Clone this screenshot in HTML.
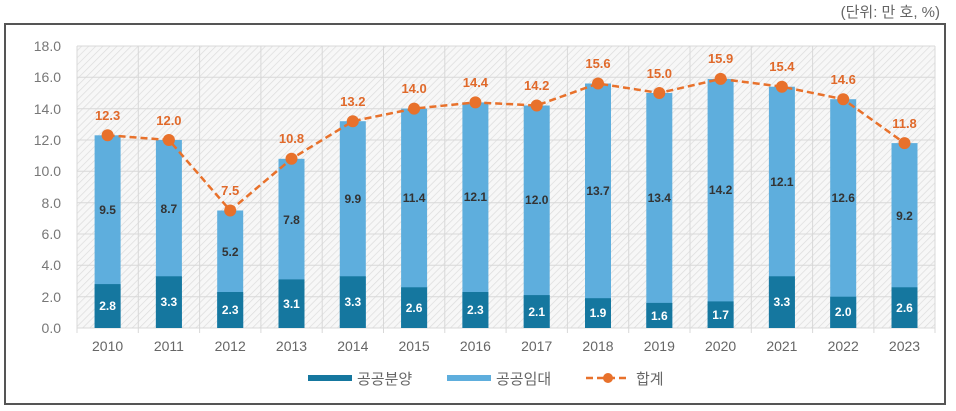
<!DOCTYPE html>
<html><head><meta charset="utf-8"><style>
body{margin:0;background:#fff;}
svg{display:block;font-family:"Liberation Sans","Noto Sans CJK KR",sans-serif;}
</style></head><body>
<svg width="956" height="411" viewBox="0 0 956 411" xmlns="http://www.w3.org/2000/svg">
<defs>
<pattern id="h" width="5" height="5" patternUnits="userSpaceOnUse" patternTransform="rotate(45)">
<rect width="5" height="5" fill="#f7f7f7"/><line x1="0" y1="0" x2="0" y2="5" stroke="#dcdcdc" stroke-width="1.4"/>
</pattern>
</defs>
<text x="940" y="17" font-size="15" fill="#666" text-anchor="end">(단위: 만 호, %)</text>
<rect x="5" y="24" width="940" height="380" fill="#fff" stroke="#555" stroke-width="2"/>
<rect x="77" y="46" width="858" height="282" fill="url(#h)"/>
<g stroke="#d8d8d8" stroke-width="1">
<line x1="77" x2="935" y1="46" y2="46"/><line x1="77" x2="935" y1="77.3" y2="77.3"/><line x1="77" x2="935" y1="108.7" y2="108.7"/><line x1="77" x2="935" y1="140" y2="140"/><line x1="77" x2="935" y1="171.3" y2="171.3"/><line x1="77" x2="935" y1="202.7" y2="202.7"/><line x1="77" x2="935" y1="234" y2="234"/><line x1="77" x2="935" y1="265.3" y2="265.3"/><line x1="77" x2="935" y1="296.7" y2="296.7"/><line x1="77" x2="935" y1="328" y2="328"/>
<line x1="77" x2="77" y1="46" y2="333"/><line x1="138.3" x2="138.3" y1="46" y2="333"/><line x1="199.6" x2="199.6" y1="46" y2="333"/><line x1="260.9" x2="260.9" y1="46" y2="333"/><line x1="322.2" x2="322.2" y1="46" y2="333"/><line x1="383.5" x2="383.5" y1="46" y2="333"/><line x1="444.8" x2="444.8" y1="46" y2="333"/><line x1="506.1" x2="506.1" y1="46" y2="333"/><line x1="567.4" x2="567.4" y1="46" y2="333"/><line x1="628.7" x2="628.7" y1="46" y2="333"/><line x1="690" x2="690" y1="46" y2="333"/><line x1="751.3" x2="751.3" y1="46" y2="333"/><line x1="812.6" x2="812.6" y1="46" y2="333"/><line x1="873.9" x2="873.9" y1="46" y2="333"/><line x1="935" x2="935" y1="46" y2="333"/>
</g>
<g font-size="14" fill="#777" text-anchor="end">
<text x="61" y="51">18.0</text><text x="61" y="82">16.0</text><text x="61" y="114">14.0</text><text x="61" y="145">12.0</text><text x="61" y="176">10.0</text><text x="61" y="208">8.0</text><text x="61" y="239">6.0</text><text x="61" y="270">4.0</text><text x="61" y="302">2.0</text><text x="61" y="333">0.0</text>
</g>
<g fill="#5eaedd">
<rect x="94.6" y="135.3" width="26" height="192.7"/><rect x="155.9" y="140" width="26" height="188"/><rect x="217.2" y="210.5" width="26" height="117.5"/><rect x="278.5" y="158.8" width="26" height="169.2"/><rect x="339.8" y="121.2" width="26" height="206.8"/><rect x="401.1" y="108.6" width="26" height="219.4"/><rect x="462.4" y="102.4" width="26" height="225.6"/><rect x="523.7" y="105.5" width="26" height="222.5"/><rect x="585" y="83.5" width="26" height="244.5"/><rect x="646.3" y="93" width="26" height="235"/><rect x="707.6" y="78.9" width="26" height="249.1"/><rect x="768.9" y="86.7" width="26" height="241.3"/><rect x="830.2" y="99.2" width="26" height="228.8"/><rect x="891.5" y="143.1" width="26" height="184.9"/>
</g>
<g fill="#15779f">
<rect x="94.6" y="284.1" width="26" height="43.9"/><rect x="155.9" y="276.3" width="26" height="51.7"/><rect x="217.2" y="292" width="26" height="36"/><rect x="278.5" y="279.4" width="26" height="48.6"/><rect x="339.8" y="276.3" width="26" height="51.7"/><rect x="401.1" y="287.3" width="26" height="40.7"/><rect x="462.4" y="292" width="26" height="36"/><rect x="523.7" y="295.1" width="26" height="32.9"/><rect x="585" y="298.2" width="26" height="29.8"/><rect x="646.3" y="302.9" width="26" height="25.1"/><rect x="707.6" y="301.4" width="26" height="26.6"/><rect x="768.9" y="276.3" width="26" height="51.7"/><rect x="830.2" y="296.7" width="26" height="31.3"/><rect x="891.5" y="287.3" width="26" height="40.7"/>
</g>
<g font-size="12" font-weight="bold" fill="#fff" text-anchor="middle">
<text x="107.6" y="310">2.8</text><text x="168.9" y="306">3.3</text><text x="230.2" y="314">2.3</text><text x="291.5" y="308">3.1</text><text x="352.8" y="306">3.3</text><text x="414.1" y="312">2.6</text><text x="475.4" y="314">2.3</text><text x="536.7" y="316">2.1</text><text x="598" y="317">1.9</text><text x="659.3" y="320">1.6</text><text x="720.6" y="319">1.7</text><text x="781.9" y="306">3.3</text><text x="843.2" y="316">2.0</text><text x="904.5" y="312">2.6</text>
</g>
<g font-size="12" font-weight="bold" fill="#333" text-anchor="middle">
<text x="107.6" y="214">9.5</text><text x="168.9" y="213">8.7</text><text x="230.2" y="256">5.2</text><text x="291.5" y="224">7.8</text><text x="352.8" y="203">9.9</text><text x="414.1" y="202">11.4</text><text x="475.4" y="201">12.1</text><text x="536.7" y="204">12.0</text><text x="598" y="195">13.7</text><text x="659.3" y="202">13.4</text><text x="720.6" y="194">14.2</text><text x="781.9" y="186">12.1</text><text x="843.2" y="202">12.6</text><text x="904.5" y="220">9.2</text>
</g>
<polyline fill="none" stroke="#e8712b" stroke-width="2.5" stroke-dasharray="7,4" points="107.6,135.3 168.9,140 230.2,210.5 291.5,158.8 352.8,121.2 414.1,108.6 475.4,102.4 536.7,105.5 598,83.5 659.3,93 720.6,78.9 781.9,86.7 843.2,99.2 904.5,143.1"/>
<g fill="#e8712b">
<circle cx="107.6" cy="135.3" r="6"/><circle cx="168.9" cy="140" r="6"/><circle cx="230.2" cy="210.5" r="6"/><circle cx="291.5" cy="158.8" r="6"/><circle cx="352.8" cy="121.2" r="6"/><circle cx="414.1" cy="108.6" r="6"/><circle cx="475.4" cy="102.4" r="6"/><circle cx="536.7" cy="105.5" r="6"/><circle cx="598" cy="83.5" r="6"/><circle cx="659.3" cy="93" r="6"/><circle cx="720.6" cy="78.9" r="6"/><circle cx="781.9" cy="86.7" r="6"/><circle cx="843.2" cy="99.2" r="6"/><circle cx="904.5" cy="143.1" r="6"/>
</g>
<g font-size="13" font-weight="bold" fill="#e0692a" text-anchor="middle">
<text x="107.6" y="120">12.3</text><text x="168.9" y="125">12.0</text><text x="230.2" y="195">7.5</text><text x="291.5" y="143">10.8</text><text x="352.8" y="106">13.2</text><text x="414.1" y="93">14.0</text><text x="475.4" y="87">14.4</text><text x="536.7" y="90">14.2</text><text x="598" y="68">15.6</text><text x="659.3" y="78">15.0</text><text x="720.6" y="63">15.9</text><text x="781.9" y="71">15.4</text><text x="843.2" y="84">14.6</text><text x="904.5" y="128">11.8</text>
</g>
<g font-size="14" fill="#666" text-anchor="middle">
<text x="107.6" y="351">2010</text><text x="168.9" y="351">2011</text><text x="230.2" y="351">2012</text><text x="291.5" y="351">2013</text><text x="352.8" y="351">2014</text><text x="414.1" y="351">2015</text><text x="475.4" y="351">2016</text><text x="536.7" y="351">2017</text><text x="598" y="351">2018</text><text x="659.3" y="351">2019</text><text x="720.6" y="351">2020</text><text x="781.9" y="351">2021</text><text x="843.2" y="351">2022</text><text x="904.5" y="351">2023</text>
</g>
<rect x="308" y="375" width="44" height="6" fill="#15779f"/>
<text x="357" y="384" font-size="15" fill="#666">공공분양</text>
<rect x="447" y="375" width="44" height="6" fill="#5eaedd"/>
<text x="496" y="384" font-size="15" fill="#666">공공임대</text>
<line x1="586" y1="378" x2="630" y2="378" stroke="#e8712b" stroke-width="2.5" stroke-dasharray="7,4"/>
<circle cx="608" cy="378" r="5" fill="#e8712b"/>
<text x="636" y="384" font-size="15" fill="#666">합계</text>
</svg>
</body></html>
